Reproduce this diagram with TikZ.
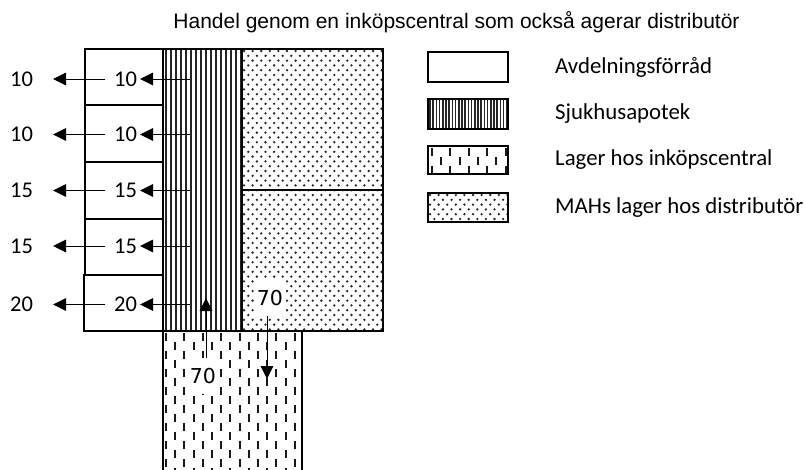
\documentclass[tikz,border=0pt]{standalone}
\usepackage{fontspec}
\setmainfont{Carlito}
\newfontfamily\titlefont{Liberation Sans}
\newfontfamily\dvfont{DejaVu Sans}
\usetikzlibrary{arrows.meta}
\tikzset{
  border/.style={line width=2pt, draw=black},
  arr/.style={line width=1pt, -{Triangle[length=13pt,width=12.5pt]}},
  num/.style={font=\fontsize{22.5}{26}\selectfont, inner sep=0pt, anchor=center},
  seventy/.style={font=\dvfont\fontsize{20.5}{24}\selectfont, fill=white, inner sep=0pt, minimum width=31pt, minimum height=36pt},
  legtext/.style={font=\fontsize{22.8}{26}\selectfont, anchor=west, inner sep=0pt},
  stripe/.style={line width=2.7pt, draw=black!85},
  dashc/.style={line width=2pt, draw=black!90},
}
% dots: x1 y1 x2 y2 ncols nrows
\newcommand\mydots[6]{%
  \begin{scope}
    \clip (#1,#2) rectangle (#3,#4);
    \foreach \j in {0,...,#6} {
      \foreach \i in {0,...,#5} {
        \fill[black!85] ({#1+2+\i*8.6+mod(\j,2)*4.3},{#2+2+\j*4.8}) circle (1.3pt);
      }
    }
  \end{scope}}
% dashes: x1 y1 x2 y2 ncols nrows
\newcommand\mydashes[6]{%
  \begin{scope}
    \clip (#1,#2) rectangle (#3,#4);
    \foreach \i in {0,...,#5} {
      \foreach \j in {0,...,#6} {
        \draw[dashc] ({#1+4+\i*9.2},{#2+2+\j*18+mod(\i,2)*9}) -- ++(0,8);
      }
    }
  \end{scope}}
\begin{document}
\begin{tikzpicture}[x=1pt,y=-1pt]
\useasboundingbox (0,0) rectangle (805,469);
% title
\node[font=\titlefont\fontsize{21}{25}\selectfont, anchor=base, inner sep=0pt] (title) at (456.5,28) {Handel genom en inköpscentral som också agerar distributör};

% patterns
\mydots{242}{49}{383}{331}{17}{60}
\mydashes{162}{331}{302}{470}{15}{8}
\begin{scope}
  \clip (163,49) rectangle (242,331);
  \foreach \x in {166,171,...,241} \draw[stripe] (\x,49) -- (\x,331);
\end{scope}

% borders
\draw[border] (85,49) rectangle (163,105);
\draw[border] (85,105) rectangle (163,162);
\draw[border] (85,162) rectangle (163,219);
\draw[border] (85,219) rectangle (163,275);
\draw[border] (84,275) rectangle (163,331);
\draw[border] (163,49) rectangle (242,331);
\draw[border] (242,49) rectangle (383,331);
\draw[border] (242,190) -- (383,190);
\draw[border] (163,331) -- (163,470);
\draw[border] (302,331) -- (302,470);
\draw[border] (163,331) -- (302,331);

% numbers and arrows
\foreach \n/\y/\v in {a/79/10, b/134.5/10, c/190.5/15, d/246/15, e/304.5/20} {
  \node[num] (in\n) at (125.5,\y) {\v};
  \node[num] (out\n) at (21.5,\y) {\v};
  \coordinate (s\n) at (190,\y);
  \coordinate (si\n) at (140,\y);
  \coordinate (t\n) at (105,\y);
  \coordinate (ti\n) at (53,\y);
  \draw[arr] (s\n) -- (si\n);
  \draw[arr] (t\n) -- (ti\n);
}

\node[seventy] (up) at (203,376) {70};
\node[seventy] (down) at (270,298) {70};
\coordinate (uptip) at (206,298);
\coordinate (downtip) at (267,379);
\draw[arr] (up.north -| uptip) -- (uptip);
\draw[arr] (down.south -| downtip) -- (downtip);

% legend
\node[draw=black, line width=2pt, minimum width=80pt, minimum height=30pt, inner sep=0pt] (L1) at (468,67) {};
\node[legtext] at (555,67) {Avdelningsförråd};

\begin{scope}
  \clip (428,99) rectangle (508,129);
  \foreach \x in {430,433.2,...,508} \draw[line width=1.6pt, black!85] (\x,99) -- (\x,129);
\end{scope}
\node[draw=black, line width=2pt, minimum width=80pt, minimum height=30pt, inner sep=0pt] (L2) at (468,114) {};
\node[legtext] at (555,114) {Sjukhusapotek};

\mydashes{428}{146}{508}{174}{9}{2}
\node[draw=black, line width=2pt, minimum width=80pt, minimum height=28pt, inner sep=0pt] (L3) at (468,160) {};
\node[legtext] at (555,160) {Lager hos inköpscentral};

\mydots{428}{193}{508}{222}{10}{7}
\node[draw=black, line width=2pt, minimum width=80pt, minimum height=29pt, inner sep=0pt] (L4) at (468,207.5) {};
\node[legtext] at (555,207.5) {MAHs lager hos distributör};
\end{tikzpicture}
\end{document}
